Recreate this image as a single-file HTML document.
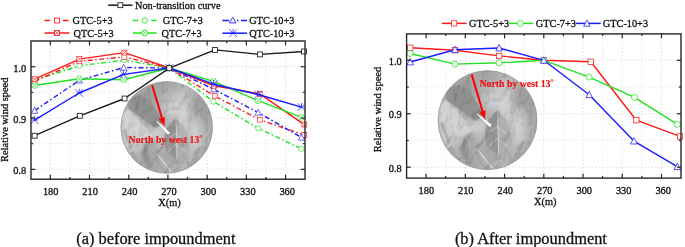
<!DOCTYPE html>
<html><head><meta charset="utf-8"><title>Relative wind speed</title>
<style>html,body{margin:0;padding:0;background:#fff;width:685px;height:247px;overflow:hidden}
svg text{font-family:"Liberation Serif",serif;stroke:#111;stroke-width:0.3px;paint-order:stroke}</style></head>
<body>
<svg width="685" height="247" viewBox="0 0 685 247" style="display:block;font-family:'Liberation Serif',serif;will-change:transform" fill="#111">
<line x1="50.3" y1="41" x2="50.3" y2="179.2" stroke="#d2d2d2" stroke-width="0.8" stroke-dasharray="1.3 2.2"/>
<line x1="69.91" y1="41" x2="69.91" y2="179.2" stroke="#e2e2e2" stroke-width="0.8" stroke-dasharray="1.3 2.2"/>
<line x1="89.51" y1="41" x2="89.51" y2="179.2" stroke="#d2d2d2" stroke-width="0.8" stroke-dasharray="1.3 2.2"/>
<line x1="109.11" y1="41" x2="109.11" y2="179.2" stroke="#e2e2e2" stroke-width="0.8" stroke-dasharray="1.3 2.2"/>
<line x1="128.72" y1="41" x2="128.72" y2="179.2" stroke="#d2d2d2" stroke-width="0.8" stroke-dasharray="1.3 2.2"/>
<line x1="148.32" y1="41" x2="148.32" y2="179.2" stroke="#e2e2e2" stroke-width="0.8" stroke-dasharray="1.3 2.2"/>
<line x1="167.93" y1="41" x2="167.93" y2="179.2" stroke="#d2d2d2" stroke-width="0.8" stroke-dasharray="1.3 2.2"/>
<line x1="187.53" y1="41" x2="187.53" y2="179.2" stroke="#e2e2e2" stroke-width="0.8" stroke-dasharray="1.3 2.2"/>
<line x1="207.14" y1="41" x2="207.14" y2="179.2" stroke="#d2d2d2" stroke-width="0.8" stroke-dasharray="1.3 2.2"/>
<line x1="226.75" y1="41" x2="226.75" y2="179.2" stroke="#e2e2e2" stroke-width="0.8" stroke-dasharray="1.3 2.2"/>
<line x1="246.35" y1="41" x2="246.35" y2="179.2" stroke="#d2d2d2" stroke-width="0.8" stroke-dasharray="1.3 2.2"/>
<line x1="265.95" y1="41" x2="265.95" y2="179.2" stroke="#e2e2e2" stroke-width="0.8" stroke-dasharray="1.3 2.2"/>
<line x1="285.56" y1="41" x2="285.56" y2="179.2" stroke="#d2d2d2" stroke-width="0.8" stroke-dasharray="1.3 2.2"/>
<line x1="31" y1="169.35" x2="305" y2="169.35" stroke="#d2d2d2" stroke-width="0.8" stroke-dasharray="1.3 2.2"/>
<line x1="31" y1="143.7" x2="305" y2="143.7" stroke="#e2e2e2" stroke-width="0.8" stroke-dasharray="1.3 2.2"/>
<line x1="31" y1="118.05" x2="305" y2="118.05" stroke="#d2d2d2" stroke-width="0.8" stroke-dasharray="1.3 2.2"/>
<line x1="31" y1="92.4" x2="305" y2="92.4" stroke="#e2e2e2" stroke-width="0.8" stroke-dasharray="1.3 2.2"/>
<line x1="31" y1="66.75" x2="305" y2="66.75" stroke="#d2d2d2" stroke-width="0.8" stroke-dasharray="1.3 2.2"/>
<line x1="426.1" y1="33.9" x2="426.1" y2="178.1" stroke="#d2d2d2" stroke-width="0.8" stroke-dasharray="1.3 2.2"/>
<line x1="445.72" y1="33.9" x2="445.72" y2="178.1" stroke="#e2e2e2" stroke-width="0.8" stroke-dasharray="1.3 2.2"/>
<line x1="465.33" y1="33.9" x2="465.33" y2="178.1" stroke="#d2d2d2" stroke-width="0.8" stroke-dasharray="1.3 2.2"/>
<line x1="484.95" y1="33.9" x2="484.95" y2="178.1" stroke="#e2e2e2" stroke-width="0.8" stroke-dasharray="1.3 2.2"/>
<line x1="504.57" y1="33.9" x2="504.57" y2="178.1" stroke="#d2d2d2" stroke-width="0.8" stroke-dasharray="1.3 2.2"/>
<line x1="524.19" y1="33.9" x2="524.19" y2="178.1" stroke="#e2e2e2" stroke-width="0.8" stroke-dasharray="1.3 2.2"/>
<line x1="543.8" y1="33.9" x2="543.8" y2="178.1" stroke="#d2d2d2" stroke-width="0.8" stroke-dasharray="1.3 2.2"/>
<line x1="563.42" y1="33.9" x2="563.42" y2="178.1" stroke="#e2e2e2" stroke-width="0.8" stroke-dasharray="1.3 2.2"/>
<line x1="583.04" y1="33.9" x2="583.04" y2="178.1" stroke="#d2d2d2" stroke-width="0.8" stroke-dasharray="1.3 2.2"/>
<line x1="602.65" y1="33.9" x2="602.65" y2="178.1" stroke="#e2e2e2" stroke-width="0.8" stroke-dasharray="1.3 2.2"/>
<line x1="622.27" y1="33.9" x2="622.27" y2="178.1" stroke="#d2d2d2" stroke-width="0.8" stroke-dasharray="1.3 2.2"/>
<line x1="641.89" y1="33.9" x2="641.89" y2="178.1" stroke="#e2e2e2" stroke-width="0.8" stroke-dasharray="1.3 2.2"/>
<line x1="661.5" y1="33.9" x2="661.5" y2="178.1" stroke="#d2d2d2" stroke-width="0.8" stroke-dasharray="1.3 2.2"/>
<line x1="406.6" y1="167.2" x2="681" y2="167.2" stroke="#d2d2d2" stroke-width="0.8" stroke-dasharray="1.3 2.2"/>
<line x1="406.6" y1="140.47" x2="681" y2="140.47" stroke="#e2e2e2" stroke-width="0.8" stroke-dasharray="1.3 2.2"/>
<line x1="406.6" y1="113.75" x2="681" y2="113.75" stroke="#d2d2d2" stroke-width="0.8" stroke-dasharray="1.3 2.2"/>
<line x1="406.6" y1="87.02" x2="681" y2="87.02" stroke="#e2e2e2" stroke-width="0.8" stroke-dasharray="1.3 2.2"/>
<line x1="406.6" y1="60.3" x2="681" y2="60.3" stroke="#d2d2d2" stroke-width="0.8" stroke-dasharray="1.3 2.2"/>
<clipPath id="tc"><circle cx="487.5" cy="120.2" r="49.7"/></clipPath>
<filter id="tb" x="-10%" y="-10%" width="120%" height="120%"><feGaussianBlur stdDeviation="3.2"/></filter>
<filter id="tx" x="0" y="0" width="100%" height="100%" color-interpolation-filters="sRGB"><feTurbulence type="fractalNoise" baseFrequency="0.09 0.06" numOctaves="3" seed="7" result="n"/><feColorMatrix in="n" type="matrix" values="0 0 0 0 0  0 0 0 0 0  0 0 0 0 0  0 0 0 1.2 -0.45" result="h"/><feDiffuseLighting in="h" surfaceScale="4" diffuseConstant="1" lighting-color="#fff" result="l"><feDistantLight azimuth="225" elevation="50"/></feDiffuseLighting><feColorMatrix in="l" type="matrix" values="0 0 0 0 0  0 0 0 0 0  0 0 0 0 0  -0.5 -0.5 0 0 0.75"/></filter>
<g transform="translate(166.7,127.4) scale(0.9256) translate(-487.5,-120.2)"><g>
<g clip-path="url(#tc)">
<g filter="url(#tb)">
<rect x="424.5" y="57.5" width="12.8" height="12.8" fill="#a8a8a8"/>
<rect x="437.0" y="57.5" width="12.8" height="12.8" fill="#a8a8a8"/>
<rect x="449.5" y="57.5" width="12.8" height="12.8" fill="#a8a8a8"/>
<rect x="462.0" y="57.5" width="12.8" height="12.8" fill="#a8a8a8"/>
<rect x="474.5" y="57.5" width="12.8" height="12.8" fill="#a4a4a4"/>
<rect x="487.0" y="57.5" width="12.8" height="12.8" fill="#a8a8a8"/>
<rect x="499.5" y="57.5" width="12.8" height="12.8" fill="#b8b8b8"/>
<rect x="512.0" y="57.5" width="12.8" height="12.8" fill="#b8b8b8"/>
<rect x="524.5" y="57.5" width="12.8" height="12.8" fill="#b8b8b8"/>
<rect x="537.0" y="57.5" width="12.8" height="12.8" fill="#b8b8b8"/>
<rect x="424.5" y="70.0" width="12.8" height="12.8" fill="#a8a8a8"/>
<rect x="437.0" y="70.0" width="12.8" height="12.8" fill="#a8a8a8"/>
<rect x="449.5" y="70.0" width="12.8" height="12.8" fill="#a8a8a8"/>
<rect x="462.0" y="70.0" width="12.8" height="12.8" fill="#a8a8a8"/>
<rect x="474.5" y="70.0" width="12.8" height="12.8" fill="#a4a4a4"/>
<rect x="487.0" y="70.0" width="12.8" height="12.8" fill="#a8a8a8"/>
<rect x="499.5" y="70.0" width="12.8" height="12.8" fill="#b8b8b8"/>
<rect x="512.0" y="70.0" width="12.8" height="12.8" fill="#b8b8b8"/>
<rect x="524.5" y="70.0" width="12.8" height="12.8" fill="#b8b8b8"/>
<rect x="537.0" y="70.0" width="12.8" height="12.8" fill="#b8b8b8"/>
<rect x="424.5" y="82.5" width="12.8" height="12.8" fill="#a8a8a8"/>
<rect x="437.0" y="82.5" width="12.8" height="12.8" fill="#a8a8a8"/>
<rect x="449.5" y="82.5" width="12.8" height="12.8" fill="#a0a0a0"/>
<rect x="462.0" y="82.5" width="12.8" height="12.8" fill="#989898"/>
<rect x="474.5" y="82.5" width="12.8" height="12.8" fill="#b0b0b0"/>
<rect x="487.0" y="82.5" width="12.8" height="12.8" fill="#c0c0c0"/>
<rect x="499.5" y="82.5" width="12.8" height="12.8" fill="#c8c8c8"/>
<rect x="512.0" y="82.5" width="12.8" height="12.8" fill="#a8a8a8"/>
<rect x="524.5" y="82.5" width="12.8" height="12.8" fill="#a0a0a0"/>
<rect x="537.0" y="82.5" width="12.8" height="12.8" fill="#a0a0a0"/>
<rect x="424.5" y="95.0" width="12.8" height="12.8" fill="#c8c8c8"/>
<rect x="437.0" y="95.0" width="12.8" height="12.8" fill="#c8c8c8"/>
<rect x="449.5" y="95.0" width="12.8" height="12.8" fill="#949494"/>
<rect x="462.0" y="95.0" width="12.8" height="12.8" fill="#989898"/>
<rect x="474.5" y="95.0" width="12.8" height="12.8" fill="#b8b8b8"/>
<rect x="487.0" y="95.0" width="12.8" height="12.8" fill="#d0d0d0"/>
<rect x="499.5" y="95.0" width="12.8" height="12.8" fill="#d0d0d0"/>
<rect x="512.0" y="95.0" width="12.8" height="12.8" fill="#a0a0a0"/>
<rect x="524.5" y="95.0" width="12.8" height="12.8" fill="#a0a0a0"/>
<rect x="537.0" y="95.0" width="12.8" height="12.8" fill="#a0a0a0"/>
<rect x="424.5" y="107.5" width="12.8" height="12.8" fill="#d0d0d0"/>
<rect x="437.0" y="107.5" width="12.8" height="12.8" fill="#d0d0d0"/>
<rect x="449.5" y="107.5" width="12.8" height="12.8" fill="#c8c8c8"/>
<rect x="462.0" y="107.5" width="12.8" height="12.8" fill="#989898"/>
<rect x="474.5" y="107.5" width="12.8" height="12.8" fill="#a8a8a8"/>
<rect x="487.0" y="107.5" width="12.8" height="12.8" fill="#b8b8b8"/>
<rect x="499.5" y="107.5" width="12.8" height="12.8" fill="#d0d0d0"/>
<rect x="512.0" y="107.5" width="12.8" height="12.8" fill="#c0c0c0"/>
<rect x="524.5" y="107.5" width="12.8" height="12.8" fill="#a8a8a8"/>
<rect x="537.0" y="107.5" width="12.8" height="12.8" fill="#a8a8a8"/>
<rect x="424.5" y="120.0" width="12.8" height="12.8" fill="#c0c0c0"/>
<rect x="437.0" y="120.0" width="12.8" height="12.8" fill="#c0c0c0"/>
<rect x="449.5" y="120.0" width="12.8" height="12.8" fill="#d4d4d4"/>
<rect x="462.0" y="120.0" width="12.8" height="12.8" fill="#d0d0d0"/>
<rect x="474.5" y="120.0" width="12.8" height="12.8" fill="#cccccc"/>
<rect x="487.0" y="120.0" width="12.8" height="12.8" fill="#9c9c9c"/>
<rect x="499.5" y="120.0" width="12.8" height="12.8" fill="#b8b8b8"/>
<rect x="512.0" y="120.0" width="12.8" height="12.8" fill="#d0d0d0"/>
<rect x="524.5" y="120.0" width="12.8" height="12.8" fill="#b0b0b0"/>
<rect x="537.0" y="120.0" width="12.8" height="12.8" fill="#b0b0b0"/>
<rect x="424.5" y="132.5" width="12.8" height="12.8" fill="#c8c8c8"/>
<rect x="437.0" y="132.5" width="12.8" height="12.8" fill="#c8c8c8"/>
<rect x="449.5" y="132.5" width="12.8" height="12.8" fill="#c8c8c8"/>
<rect x="462.0" y="132.5" width="12.8" height="12.8" fill="#a0a0a0"/>
<rect x="474.5" y="132.5" width="12.8" height="12.8" fill="#b8b8b8"/>
<rect x="487.0" y="132.5" width="12.8" height="12.8" fill="#9c9c9c"/>
<rect x="499.5" y="132.5" width="12.8" height="12.8" fill="#b4b4b4"/>
<rect x="512.0" y="132.5" width="12.8" height="12.8" fill="#c8c8c8"/>
<rect x="524.5" y="132.5" width="12.8" height="12.8" fill="#b0b0b0"/>
<rect x="537.0" y="132.5" width="12.8" height="12.8" fill="#b0b0b0"/>
<rect x="424.5" y="145.0" width="12.8" height="12.8" fill="#c0c0c0"/>
<rect x="437.0" y="145.0" width="12.8" height="12.8" fill="#c0c0c0"/>
<rect x="449.5" y="145.0" width="12.8" height="12.8" fill="#b0b0b0"/>
<rect x="462.0" y="145.0" width="12.8" height="12.8" fill="#989898"/>
<rect x="474.5" y="145.0" width="12.8" height="12.8" fill="#a8a8a8"/>
<rect x="487.0" y="145.0" width="12.8" height="12.8" fill="#a4a4a4"/>
<rect x="499.5" y="145.0" width="12.8" height="12.8" fill="#b0b0b0"/>
<rect x="512.0" y="145.0" width="12.8" height="12.8" fill="#b8b8b8"/>
<rect x="524.5" y="145.0" width="12.8" height="12.8" fill="#b4b4b4"/>
<rect x="537.0" y="145.0" width="12.8" height="12.8" fill="#b4b4b4"/>
<rect x="424.5" y="157.5" width="12.8" height="12.8" fill="#b8b8b8"/>
<rect x="437.0" y="157.5" width="12.8" height="12.8" fill="#b8b8b8"/>
<rect x="449.5" y="157.5" width="12.8" height="12.8" fill="#b0b0b0"/>
<rect x="462.0" y="157.5" width="12.8" height="12.8" fill="#a4a4a4"/>
<rect x="474.5" y="157.5" width="12.8" height="12.8" fill="#b0b0b0"/>
<rect x="487.0" y="157.5" width="12.8" height="12.8" fill="#b0b0b0"/>
<rect x="499.5" y="157.5" width="12.8" height="12.8" fill="#b4b4b4"/>
<rect x="512.0" y="157.5" width="12.8" height="12.8" fill="#b8b8b8"/>
<rect x="524.5" y="157.5" width="12.8" height="12.8" fill="#b8b8b8"/>
<rect x="537.0" y="157.5" width="12.8" height="12.8" fill="#b8b8b8"/>
<rect x="424.5" y="170.0" width="12.8" height="12.8" fill="#b8b8b8"/>
<rect x="437.0" y="170.0" width="12.8" height="12.8" fill="#b8b8b8"/>
<rect x="449.5" y="170.0" width="12.8" height="12.8" fill="#b0b0b0"/>
<rect x="462.0" y="170.0" width="12.8" height="12.8" fill="#a4a4a4"/>
<rect x="474.5" y="170.0" width="12.8" height="12.8" fill="#b0b0b0"/>
<rect x="487.0" y="170.0" width="12.8" height="12.8" fill="#b0b0b0"/>
<rect x="499.5" y="170.0" width="12.8" height="12.8" fill="#b4b4b4"/>
<rect x="512.0" y="170.0" width="12.8" height="12.8" fill="#b8b8b8"/>
<rect x="524.5" y="170.0" width="12.8" height="12.8" fill="#b8b8b8"/>
<rect x="537.0" y="170.0" width="12.8" height="12.8" fill="#b8b8b8"/>
</g>
<path d="M440 103 L447 101 L456 110 L465 121 L472 130 L463 137 L450 131 L441 119Z" fill="#d4d4d4" fill-opacity="0.7"/>
<path d="M445 89 L458 85 L470 92 L478 104 L482 116 L476 121 L466 114 L455 106 L446 100Z" fill="#8f8f8f" fill-opacity="0.85"/>
<path d="M496.8 110.3 L488.2 119.6 L484.8 131.6 L486.5 145.4 L498.5 155.7 L498 132Z" fill="#959595" fill-opacity="0.9"/>
<path d="M496.8 110.3 L505.4 117.9 L510.6 131.6 L512.3 145.4 L498.5 155.7 L498 132Z" fill="#b0b0b0" fill-opacity="0.85"/>
<path d="M465.8 136.8 L458.9 148.8 L463 158 L471 165 L469 150Z" fill="#969696" fill-opacity="0.85"/>
<path d="M465.8 136.8 L477.9 148.8 L476 158 L471 165 L469 150Z" fill="#acacac" fill-opacity="0.8"/>
<path d="M447 148 L452 146 L458 158 L455 162Z" fill="#a4a4a4" fill-opacity="0.8"/>
<path d="M516 90 L523 87 L530 97 L533 112 L527 114 L520 102Z" fill="#a0a0a0" fill-opacity="0.8"/>
<path d="M516 146 L526 140 L532 142 L529 152 L520 162 L514 160Z" fill="#a6a6a6" fill-opacity="0.6"/>
<path d="M442 124 L446 134 L449 142" fill="none" stroke="#9a9a9a" stroke-width="2.5" stroke-opacity="0.5" stroke-linecap="round" stroke-linejoin="round"/>
<path d="M466 78 L474 86 L480 96" fill="none" stroke="#a0a0a0" stroke-width="3.0" stroke-opacity="0.45" stroke-linecap="round" stroke-linejoin="round"/>
<path d="M506 150 L511 158 L515 164" fill="none" stroke="#a0a0a0" stroke-width="3.0" stroke-opacity="0.45" stroke-linecap="round" stroke-linejoin="round"/>
<path d="M478 158 L482 164 L486 169" fill="none" stroke="#9c9c9c" stroke-width="2.5" stroke-opacity="0.5" stroke-linecap="round" stroke-linejoin="round"/>
<path d="M498 118 L498.3 134 L498.5 154" fill="none" stroke="#cfcfcf" stroke-width="1.2" stroke-linecap="round"/>
<path d="M498 126 L490 132" fill="none" stroke="#c8c8c8" stroke-width="0.9" stroke-linecap="round"/>
<path d="M498 138 L489 146" fill="none" stroke="#c8c8c8" stroke-width="0.9" stroke-linecap="round"/>
<path d="M498 128 L507 134" fill="none" stroke="#d0d0d0" stroke-width="0.9" stroke-linecap="round"/>
<path d="M498 140 L508 146" fill="none" stroke="#d0d0d0" stroke-width="0.9" stroke-linecap="round"/>
<path d="M478 150 L486 160 L492 168" fill="none" stroke="#d2d2d2" stroke-width="1.6" stroke-linecap="round"/>
<rect x="437.8" y="70.5" width="99.4" height="99.4" fill="#000" filter="url(#tx)" opacity="0.22"/>
</g>
<circle cx="487.5" cy="120.2" r="49.400000000000006" fill="none" stroke="#9a9a9a" stroke-width="0.8"/>
</g></g>
<path d="M156.45 121.24L167.99 134.67L170.01 132.73L156.95 120.76Z" fill="#fff"/><line x1="152.2" y1="85.3" x2="161.93" y2="117.88" stroke="#f00" stroke-width="2"/><path d="M164.5 126.5L159.05 118.73L164.8 117.02Z" fill="#f00"/>
<text x="128.6" y="143.4" font-size="9.75" font-weight="bold" fill="#ee1111" style="stroke:#ee1111;stroke-width:0.15px">North by west 13<tspan font-size="8" dy="-2.3">°</tspan></text>
<g>
<g clip-path="url(#tc)">
<g filter="url(#tb)">
<rect x="424.5" y="57.5" width="12.8" height="12.8" fill="#a8a8a8"/>
<rect x="437.0" y="57.5" width="12.8" height="12.8" fill="#a8a8a8"/>
<rect x="449.5" y="57.5" width="12.8" height="12.8" fill="#a8a8a8"/>
<rect x="462.0" y="57.5" width="12.8" height="12.8" fill="#a8a8a8"/>
<rect x="474.5" y="57.5" width="12.8" height="12.8" fill="#a4a4a4"/>
<rect x="487.0" y="57.5" width="12.8" height="12.8" fill="#a8a8a8"/>
<rect x="499.5" y="57.5" width="12.8" height="12.8" fill="#b8b8b8"/>
<rect x="512.0" y="57.5" width="12.8" height="12.8" fill="#b8b8b8"/>
<rect x="524.5" y="57.5" width="12.8" height="12.8" fill="#b8b8b8"/>
<rect x="537.0" y="57.5" width="12.8" height="12.8" fill="#b8b8b8"/>
<rect x="424.5" y="70.0" width="12.8" height="12.8" fill="#a8a8a8"/>
<rect x="437.0" y="70.0" width="12.8" height="12.8" fill="#a8a8a8"/>
<rect x="449.5" y="70.0" width="12.8" height="12.8" fill="#a8a8a8"/>
<rect x="462.0" y="70.0" width="12.8" height="12.8" fill="#a8a8a8"/>
<rect x="474.5" y="70.0" width="12.8" height="12.8" fill="#a4a4a4"/>
<rect x="487.0" y="70.0" width="12.8" height="12.8" fill="#a8a8a8"/>
<rect x="499.5" y="70.0" width="12.8" height="12.8" fill="#b8b8b8"/>
<rect x="512.0" y="70.0" width="12.8" height="12.8" fill="#b8b8b8"/>
<rect x="524.5" y="70.0" width="12.8" height="12.8" fill="#b8b8b8"/>
<rect x="537.0" y="70.0" width="12.8" height="12.8" fill="#b8b8b8"/>
<rect x="424.5" y="82.5" width="12.8" height="12.8" fill="#a8a8a8"/>
<rect x="437.0" y="82.5" width="12.8" height="12.8" fill="#a8a8a8"/>
<rect x="449.5" y="82.5" width="12.8" height="12.8" fill="#a0a0a0"/>
<rect x="462.0" y="82.5" width="12.8" height="12.8" fill="#989898"/>
<rect x="474.5" y="82.5" width="12.8" height="12.8" fill="#b0b0b0"/>
<rect x="487.0" y="82.5" width="12.8" height="12.8" fill="#c0c0c0"/>
<rect x="499.5" y="82.5" width="12.8" height="12.8" fill="#c8c8c8"/>
<rect x="512.0" y="82.5" width="12.8" height="12.8" fill="#a8a8a8"/>
<rect x="524.5" y="82.5" width="12.8" height="12.8" fill="#a0a0a0"/>
<rect x="537.0" y="82.5" width="12.8" height="12.8" fill="#a0a0a0"/>
<rect x="424.5" y="95.0" width="12.8" height="12.8" fill="#c8c8c8"/>
<rect x="437.0" y="95.0" width="12.8" height="12.8" fill="#c8c8c8"/>
<rect x="449.5" y="95.0" width="12.8" height="12.8" fill="#949494"/>
<rect x="462.0" y="95.0" width="12.8" height="12.8" fill="#989898"/>
<rect x="474.5" y="95.0" width="12.8" height="12.8" fill="#b8b8b8"/>
<rect x="487.0" y="95.0" width="12.8" height="12.8" fill="#d0d0d0"/>
<rect x="499.5" y="95.0" width="12.8" height="12.8" fill="#d0d0d0"/>
<rect x="512.0" y="95.0" width="12.8" height="12.8" fill="#a0a0a0"/>
<rect x="524.5" y="95.0" width="12.8" height="12.8" fill="#a0a0a0"/>
<rect x="537.0" y="95.0" width="12.8" height="12.8" fill="#a0a0a0"/>
<rect x="424.5" y="107.5" width="12.8" height="12.8" fill="#d0d0d0"/>
<rect x="437.0" y="107.5" width="12.8" height="12.8" fill="#d0d0d0"/>
<rect x="449.5" y="107.5" width="12.8" height="12.8" fill="#c8c8c8"/>
<rect x="462.0" y="107.5" width="12.8" height="12.8" fill="#989898"/>
<rect x="474.5" y="107.5" width="12.8" height="12.8" fill="#a8a8a8"/>
<rect x="487.0" y="107.5" width="12.8" height="12.8" fill="#b8b8b8"/>
<rect x="499.5" y="107.5" width="12.8" height="12.8" fill="#d0d0d0"/>
<rect x="512.0" y="107.5" width="12.8" height="12.8" fill="#c0c0c0"/>
<rect x="524.5" y="107.5" width="12.8" height="12.8" fill="#a8a8a8"/>
<rect x="537.0" y="107.5" width="12.8" height="12.8" fill="#a8a8a8"/>
<rect x="424.5" y="120.0" width="12.8" height="12.8" fill="#c0c0c0"/>
<rect x="437.0" y="120.0" width="12.8" height="12.8" fill="#c0c0c0"/>
<rect x="449.5" y="120.0" width="12.8" height="12.8" fill="#d4d4d4"/>
<rect x="462.0" y="120.0" width="12.8" height="12.8" fill="#d0d0d0"/>
<rect x="474.5" y="120.0" width="12.8" height="12.8" fill="#cccccc"/>
<rect x="487.0" y="120.0" width="12.8" height="12.8" fill="#9c9c9c"/>
<rect x="499.5" y="120.0" width="12.8" height="12.8" fill="#b8b8b8"/>
<rect x="512.0" y="120.0" width="12.8" height="12.8" fill="#d0d0d0"/>
<rect x="524.5" y="120.0" width="12.8" height="12.8" fill="#b0b0b0"/>
<rect x="537.0" y="120.0" width="12.8" height="12.8" fill="#b0b0b0"/>
<rect x="424.5" y="132.5" width="12.8" height="12.8" fill="#c8c8c8"/>
<rect x="437.0" y="132.5" width="12.8" height="12.8" fill="#c8c8c8"/>
<rect x="449.5" y="132.5" width="12.8" height="12.8" fill="#c8c8c8"/>
<rect x="462.0" y="132.5" width="12.8" height="12.8" fill="#a0a0a0"/>
<rect x="474.5" y="132.5" width="12.8" height="12.8" fill="#b8b8b8"/>
<rect x="487.0" y="132.5" width="12.8" height="12.8" fill="#9c9c9c"/>
<rect x="499.5" y="132.5" width="12.8" height="12.8" fill="#b4b4b4"/>
<rect x="512.0" y="132.5" width="12.8" height="12.8" fill="#c8c8c8"/>
<rect x="524.5" y="132.5" width="12.8" height="12.8" fill="#b0b0b0"/>
<rect x="537.0" y="132.5" width="12.8" height="12.8" fill="#b0b0b0"/>
<rect x="424.5" y="145.0" width="12.8" height="12.8" fill="#c0c0c0"/>
<rect x="437.0" y="145.0" width="12.8" height="12.8" fill="#c0c0c0"/>
<rect x="449.5" y="145.0" width="12.8" height="12.8" fill="#b0b0b0"/>
<rect x="462.0" y="145.0" width="12.8" height="12.8" fill="#989898"/>
<rect x="474.5" y="145.0" width="12.8" height="12.8" fill="#a8a8a8"/>
<rect x="487.0" y="145.0" width="12.8" height="12.8" fill="#a4a4a4"/>
<rect x="499.5" y="145.0" width="12.8" height="12.8" fill="#b0b0b0"/>
<rect x="512.0" y="145.0" width="12.8" height="12.8" fill="#b8b8b8"/>
<rect x="524.5" y="145.0" width="12.8" height="12.8" fill="#b4b4b4"/>
<rect x="537.0" y="145.0" width="12.8" height="12.8" fill="#b4b4b4"/>
<rect x="424.5" y="157.5" width="12.8" height="12.8" fill="#b8b8b8"/>
<rect x="437.0" y="157.5" width="12.8" height="12.8" fill="#b8b8b8"/>
<rect x="449.5" y="157.5" width="12.8" height="12.8" fill="#b0b0b0"/>
<rect x="462.0" y="157.5" width="12.8" height="12.8" fill="#a4a4a4"/>
<rect x="474.5" y="157.5" width="12.8" height="12.8" fill="#b0b0b0"/>
<rect x="487.0" y="157.5" width="12.8" height="12.8" fill="#b0b0b0"/>
<rect x="499.5" y="157.5" width="12.8" height="12.8" fill="#b4b4b4"/>
<rect x="512.0" y="157.5" width="12.8" height="12.8" fill="#b8b8b8"/>
<rect x="524.5" y="157.5" width="12.8" height="12.8" fill="#b8b8b8"/>
<rect x="537.0" y="157.5" width="12.8" height="12.8" fill="#b8b8b8"/>
<rect x="424.5" y="170.0" width="12.8" height="12.8" fill="#b8b8b8"/>
<rect x="437.0" y="170.0" width="12.8" height="12.8" fill="#b8b8b8"/>
<rect x="449.5" y="170.0" width="12.8" height="12.8" fill="#b0b0b0"/>
<rect x="462.0" y="170.0" width="12.8" height="12.8" fill="#a4a4a4"/>
<rect x="474.5" y="170.0" width="12.8" height="12.8" fill="#b0b0b0"/>
<rect x="487.0" y="170.0" width="12.8" height="12.8" fill="#b0b0b0"/>
<rect x="499.5" y="170.0" width="12.8" height="12.8" fill="#b4b4b4"/>
<rect x="512.0" y="170.0" width="12.8" height="12.8" fill="#b8b8b8"/>
<rect x="524.5" y="170.0" width="12.8" height="12.8" fill="#b8b8b8"/>
<rect x="537.0" y="170.0" width="12.8" height="12.8" fill="#b8b8b8"/>
</g>
<path d="M440 103 L447 101 L456 110 L465 121 L472 130 L463 137 L450 131 L441 119Z" fill="#d4d4d4" fill-opacity="0.7"/>
<path d="M445 89 L458 85 L470 92 L478 104 L482 116 L476 121 L466 114 L455 106 L446 100Z" fill="#8f8f8f" fill-opacity="0.85"/>
<path d="M496.8 110.3 L488.2 119.6 L484.8 131.6 L486.5 145.4 L498.5 155.7 L498 132Z" fill="#959595" fill-opacity="0.9"/>
<path d="M496.8 110.3 L505.4 117.9 L510.6 131.6 L512.3 145.4 L498.5 155.7 L498 132Z" fill="#b0b0b0" fill-opacity="0.85"/>
<path d="M465.8 136.8 L458.9 148.8 L463 158 L471 165 L469 150Z" fill="#969696" fill-opacity="0.85"/>
<path d="M465.8 136.8 L477.9 148.8 L476 158 L471 165 L469 150Z" fill="#acacac" fill-opacity="0.8"/>
<path d="M447 148 L452 146 L458 158 L455 162Z" fill="#a4a4a4" fill-opacity="0.8"/>
<path d="M516 90 L523 87 L530 97 L533 112 L527 114 L520 102Z" fill="#a0a0a0" fill-opacity="0.8"/>
<path d="M516 146 L526 140 L532 142 L529 152 L520 162 L514 160Z" fill="#a6a6a6" fill-opacity="0.6"/>
<path d="M442 124 L446 134 L449 142" fill="none" stroke="#9a9a9a" stroke-width="2.5" stroke-opacity="0.5" stroke-linecap="round" stroke-linejoin="round"/>
<path d="M466 78 L474 86 L480 96" fill="none" stroke="#a0a0a0" stroke-width="3.0" stroke-opacity="0.45" stroke-linecap="round" stroke-linejoin="round"/>
<path d="M506 150 L511 158 L515 164" fill="none" stroke="#a0a0a0" stroke-width="3.0" stroke-opacity="0.45" stroke-linecap="round" stroke-linejoin="round"/>
<path d="M478 158 L482 164 L486 169" fill="none" stroke="#9c9c9c" stroke-width="2.5" stroke-opacity="0.5" stroke-linecap="round" stroke-linejoin="round"/>
<path d="M498 118 L498.3 134 L498.5 154" fill="none" stroke="#cfcfcf" stroke-width="1.2" stroke-linecap="round"/>
<path d="M498 126 L490 132" fill="none" stroke="#c8c8c8" stroke-width="0.9" stroke-linecap="round"/>
<path d="M498 138 L489 146" fill="none" stroke="#c8c8c8" stroke-width="0.9" stroke-linecap="round"/>
<path d="M498 128 L507 134" fill="none" stroke="#d0d0d0" stroke-width="0.9" stroke-linecap="round"/>
<path d="M498 140 L508 146" fill="none" stroke="#d0d0d0" stroke-width="0.9" stroke-linecap="round"/>
<path d="M478 150 L486 160 L492 168" fill="none" stroke="#d2d2d2" stroke-width="1.6" stroke-linecap="round"/>
<rect x="437.8" y="70.5" width="99.4" height="99.4" fill="#000" filter="url(#tx)" opacity="0.22"/>
</g>
<circle cx="487.5" cy="120.2" r="49.400000000000006" fill="none" stroke="#9a9a9a" stroke-width="0.8"/>
</g>
<path d="M476.77 113.96L489.77 126.95L491.63 124.85L477.23 113.44Z" fill="#fff"/><line x1="471.7" y1="74.4" x2="482.55" y2="111.17" stroke="#f00" stroke-width="2"/><path d="M485.1 119.8L479.67 112.02L485.43 110.32Z" fill="#f00"/>
<text x="479.5" y="86.9" font-size="9.8" font-weight="bold" fill="#ee1111" style="stroke:#ee1111;stroke-width:0.15px">North by west 13<tspan font-size="8" dy="-2.3">°</tspan></text>
<path d="M34.6 80 L79.4 65.7 L124.4 60.2 L169.3 68 L213.4 101.6 L258.3 128.3 L301.3 148.7" stroke="#22e022" stroke-width="1.4" fill="none" stroke-linejoin="round" stroke-dasharray="5 2.5 1.5 2.5"/><circle cx="34.6" cy="80" r="2.7" fill="#fff" stroke="#22e022" stroke-width="0.65"/><circle cx="79.4" cy="65.7" r="2.7" fill="#fff" stroke="#22e022" stroke-width="0.65"/><circle cx="124.4" cy="60.2" r="2.7" fill="#fff" stroke="#22e022" stroke-width="0.65"/><circle cx="169.3" cy="68" r="2.7" fill="#fff" stroke="#22e022" stroke-width="0.65"/><circle cx="213.4" cy="101.6" r="2.7" fill="#fff" stroke="#22e022" stroke-width="0.65"/><circle cx="258.3" cy="128.3" r="2.7" fill="#fff" stroke="#22e022" stroke-width="0.65"/><circle cx="301.3" cy="148.7" r="2.7" fill="#fff" stroke="#22e022" stroke-width="0.65"/>
<path d="M34.6 81.3 L79.4 61.3 L124.4 56.9 L169.3 68 L214.7 96.1 L259.8 119.7 L304.3 135" stroke="#ff1a1a" stroke-width="1.4" fill="none" stroke-linejoin="round" stroke-dasharray="5 2.5 1.5 2.5"/><rect x="32.15" y="78.85" width="4.9" height="4.9" fill="#fff" stroke="#ff1a1a" stroke-width="0.65"/><rect x="76.95" y="58.85" width="4.9" height="4.9" fill="#fff" stroke="#ff1a1a" stroke-width="0.65"/><rect x="121.95" y="54.45" width="4.9" height="4.9" fill="#fff" stroke="#ff1a1a" stroke-width="0.65"/><rect x="166.85" y="65.55" width="4.9" height="4.9" fill="#fff" stroke="#ff1a1a" stroke-width="0.65"/><rect x="212.25" y="93.65" width="4.9" height="4.9" fill="#fff" stroke="#ff1a1a" stroke-width="0.65"/><rect x="257.35" y="117.25" width="4.9" height="4.9" fill="#fff" stroke="#ff1a1a" stroke-width="0.65"/><rect x="301.85" y="132.55" width="4.9" height="4.9" fill="#fff" stroke="#ff1a1a" stroke-width="0.65"/>
<path d="M34.6 110.6 L79.4 80.3 L123.7 67.6 L169.3 68 L213.7 89.2 L258.1 112.5 L301.5 137.5" stroke="#1a1aff" stroke-width="1.4" fill="none" stroke-linejoin="round" stroke-dasharray="5 2.5 1.5 2.5"/><path d="M34.6 107.3L37.7 113.3L31.5 113.3Z" fill="#fff" stroke="#1a1aff" stroke-width="0.65" stroke-linejoin="miter"/><path d="M79.4 77L82.5 83L76.3 83Z" fill="#fff" stroke="#1a1aff" stroke-width="0.65" stroke-linejoin="miter"/><path d="M123.7 64.3L126.8 70.3L120.6 70.3Z" fill="#fff" stroke="#1a1aff" stroke-width="0.65" stroke-linejoin="miter"/><path d="M169.3 64.7L172.4 70.7L166.2 70.7Z" fill="#fff" stroke="#1a1aff" stroke-width="0.65" stroke-linejoin="miter"/><path d="M213.7 85.9L216.8 91.9L210.6 91.9Z" fill="#fff" stroke="#1a1aff" stroke-width="0.65" stroke-linejoin="miter"/><path d="M258.1 109.2L261.2 115.2L255 115.2Z" fill="#fff" stroke="#1a1aff" stroke-width="0.65" stroke-linejoin="miter"/><path d="M301.5 134.2L304.6 140.2L298.4 140.2Z" fill="#fff" stroke="#1a1aff" stroke-width="0.65" stroke-linejoin="miter"/>
<path d="M34.6 79.2 L79.4 59.1 L124.4 52.6 L169.3 68 L214 85.8 L259.8 93.9 L304.3 124.6" stroke="#ff1a1a" stroke-width="1.4" fill="none" stroke-linejoin="round"/><rect x="32.15" y="76.75" width="4.9" height="4.9" fill="#fff" stroke="#ff1a1a" stroke-width="0.65"/><path d="M32.15 76.75L37.05 81.65M37.05 76.75L32.15 81.65" stroke="#ff1a1a" stroke-width="0.6" fill="none"/><rect x="76.95" y="56.65" width="4.9" height="4.9" fill="#fff" stroke="#ff1a1a" stroke-width="0.65"/><path d="M76.95 56.65L81.85 61.55M81.85 56.65L76.95 61.55" stroke="#ff1a1a" stroke-width="0.6" fill="none"/><rect x="121.95" y="50.15" width="4.9" height="4.9" fill="#fff" stroke="#ff1a1a" stroke-width="0.65"/><path d="M121.95 50.15L126.85 55.05M126.85 50.15L121.95 55.05" stroke="#ff1a1a" stroke-width="0.6" fill="none"/><rect x="166.85" y="65.55" width="4.9" height="4.9" fill="#fff" stroke="#ff1a1a" stroke-width="0.65"/><path d="M166.85 65.55L171.75 70.45M171.75 65.55L166.85 70.45" stroke="#ff1a1a" stroke-width="0.6" fill="none"/><rect x="211.55" y="83.35" width="4.9" height="4.9" fill="#fff" stroke="#ff1a1a" stroke-width="0.65"/><path d="M211.55 83.35L216.45 88.25M216.45 83.35L211.55 88.25" stroke="#ff1a1a" stroke-width="0.6" fill="none"/><rect x="257.35" y="91.45" width="4.9" height="4.9" fill="#fff" stroke="#ff1a1a" stroke-width="0.65"/><path d="M257.35 91.45L262.25 96.35M262.25 91.45L257.35 96.35" stroke="#ff1a1a" stroke-width="0.6" fill="none"/><rect x="301.85" y="122.15" width="4.9" height="4.9" fill="#fff" stroke="#ff1a1a" stroke-width="0.65"/><path d="M301.85 122.15L306.75 127.05M306.75 122.15L301.85 127.05" stroke="#ff1a1a" stroke-width="0.6" fill="none"/>
<path d="M34.6 85.5 L79.2 78.8 L123.7 79.7 L169.3 68 L213.7 81.3 L258.1 100.7 L301.5 117.3" stroke="#22e022" stroke-width="1.4" fill="none" stroke-linejoin="round"/><circle cx="34.6" cy="85.5" r="2.9" fill="#fff" stroke="#22e022" stroke-width="0.65"/><path d="M32.55 83.45L36.65 87.55M36.65 83.45L32.55 87.55" stroke="#22e022" stroke-width="0.6" fill="none"/><circle cx="79.2" cy="78.8" r="2.9" fill="#fff" stroke="#22e022" stroke-width="0.65"/><path d="M77.15 76.75L81.25 80.85M81.25 76.75L77.15 80.85" stroke="#22e022" stroke-width="0.6" fill="none"/><circle cx="123.7" cy="79.7" r="2.9" fill="#fff" stroke="#22e022" stroke-width="0.65"/><path d="M121.65 77.65L125.75 81.75M125.75 77.65L121.65 81.75" stroke="#22e022" stroke-width="0.6" fill="none"/><circle cx="169.3" cy="68" r="2.9" fill="#fff" stroke="#22e022" stroke-width="0.65"/><path d="M167.25 65.95L171.35 70.05M171.35 65.95L167.25 70.05" stroke="#22e022" stroke-width="0.6" fill="none"/><circle cx="213.7" cy="81.3" r="2.9" fill="#fff" stroke="#22e022" stroke-width="0.65"/><path d="M211.65 79.25L215.75 83.35M215.75 79.25L211.65 83.35" stroke="#22e022" stroke-width="0.6" fill="none"/><circle cx="258.1" cy="100.7" r="2.9" fill="#fff" stroke="#22e022" stroke-width="0.65"/><path d="M256.05 98.65L260.15 102.75M260.15 98.65L256.05 102.75" stroke="#22e022" stroke-width="0.6" fill="none"/><circle cx="301.5" cy="117.3" r="2.9" fill="#fff" stroke="#22e022" stroke-width="0.65"/><path d="M299.45 115.25L303.55 119.35M303.55 115.25L299.45 119.35" stroke="#22e022" stroke-width="0.6" fill="none"/>
<path d="M34.6 120.1 L79.2 93 L123.7 74.4 L169.3 68 L213.7 84.2 L258.1 94.5 L301.5 107.1" stroke="#1a1aff" stroke-width="1.4" fill="none" stroke-linejoin="round"/><path d="M30.7 116.2L38.5 124M38.5 116.2L30.7 124M34.6 115.81L34.6 120.88M31.48 120.1L37.72 120.1" stroke="#1a1aff" stroke-width="0.7" fill="none"/><path d="M75.3 89.1L83.1 96.9M83.1 89.1L75.3 96.9M79.2 88.71L79.2 93.78M76.08 93L82.32 93" stroke="#1a1aff" stroke-width="0.7" fill="none"/><path d="M119.8 70.5L127.6 78.3M127.6 70.5L119.8 78.3M123.7 70.11L123.7 75.18M120.58 74.4L126.82 74.4" stroke="#1a1aff" stroke-width="0.7" fill="none"/><path d="M165.4 64.1L173.2 71.9M173.2 64.1L165.4 71.9M169.3 63.71L169.3 68.78M166.18 68L172.42 68" stroke="#1a1aff" stroke-width="0.7" fill="none"/><path d="M209.8 80.3L217.6 88.1M217.6 80.3L209.8 88.1M213.7 79.91L213.7 84.98M210.58 84.2L216.82 84.2" stroke="#1a1aff" stroke-width="0.7" fill="none"/><path d="M254.2 90.6L262 98.4M262 90.6L254.2 98.4M258.1 90.21L258.1 95.28M254.98 94.5L261.22 94.5" stroke="#1a1aff" stroke-width="0.7" fill="none"/><path d="M297.6 103.2L305.4 111M305.4 103.2L297.6 111M301.5 102.81L301.5 107.88M298.38 107.1L304.62 107.1" stroke="#1a1aff" stroke-width="0.7" fill="none"/>
<path d="M34.6 135.7 L79.8 115.8 L124.6 98.5 L169.3 68.2 L215 49.9 L259.9 54.4 L304 51.5" stroke="#1a1a1a" stroke-width="1.4" fill="none" stroke-linejoin="round"/><rect x="32.15" y="133.25" width="4.9" height="4.9" fill="#fff" stroke="#1a1a1a" stroke-width="0.85"/><rect x="77.35" y="113.35" width="4.9" height="4.9" fill="#fff" stroke="#1a1a1a" stroke-width="0.85"/><rect x="122.15" y="96.05" width="4.9" height="4.9" fill="#fff" stroke="#1a1a1a" stroke-width="0.85"/><rect x="166.85" y="65.75" width="4.9" height="4.9" fill="#fff" stroke="#1a1a1a" stroke-width="0.85"/><rect x="212.55" y="47.45" width="4.9" height="4.9" fill="#fff" stroke="#1a1a1a" stroke-width="0.85"/><rect x="257.45" y="51.95" width="4.9" height="4.9" fill="#fff" stroke="#1a1a1a" stroke-width="0.85"/><rect x="301.55" y="49.05" width="4.9" height="4.9" fill="#fff" stroke="#1a1a1a" stroke-width="0.85"/>
<path d="M410.2 47.8 L455 50.2 L499.1 55.9 L543.8 60.3 L590.8 61.8 L636.3 120.2 L680 136.4" stroke="#ff1a1a" stroke-width="1.4" fill="none" stroke-linejoin="round"/><rect x="407.5" y="45.1" width="5.4" height="5.4" fill="#fff" stroke="#ff1a1a" stroke-width="0.75"/><rect x="452.3" y="47.5" width="5.4" height="5.4" fill="#fff" stroke="#ff1a1a" stroke-width="0.75"/><rect x="496.4" y="53.2" width="5.4" height="5.4" fill="#fff" stroke="#ff1a1a" stroke-width="0.75"/><rect x="541.1" y="57.6" width="5.4" height="5.4" fill="#fff" stroke="#ff1a1a" stroke-width="0.75"/><rect x="588.1" y="59.1" width="5.4" height="5.4" fill="#fff" stroke="#ff1a1a" stroke-width="0.75"/><rect x="633.6" y="117.5" width="5.4" height="5.4" fill="#fff" stroke="#ff1a1a" stroke-width="0.75"/><rect x="677.3" y="133.7" width="5.4" height="5.4" fill="#fff" stroke="#ff1a1a" stroke-width="0.75"/>
<path d="M410 53.5 L455 64.1 L499.1 62.8 L543.8 60.3 L589.1 77.1 L634.5 97.4 L677.4 124.4" stroke="#22e022" stroke-width="1.4" fill="none" stroke-linejoin="round"/><circle cx="410" cy="53.5" r="3" fill="#fff" stroke="#22e022" stroke-width="0.75"/><circle cx="455" cy="64.1" r="3" fill="#fff" stroke="#22e022" stroke-width="0.75"/><circle cx="499.1" cy="62.8" r="3" fill="#fff" stroke="#22e022" stroke-width="0.75"/><circle cx="543.8" cy="60.3" r="3" fill="#fff" stroke="#22e022" stroke-width="0.75"/><circle cx="589.1" cy="77.1" r="3" fill="#fff" stroke="#22e022" stroke-width="0.75"/><circle cx="634.5" cy="97.4" r="3" fill="#fff" stroke="#22e022" stroke-width="0.75"/><circle cx="677.4" cy="124.4" r="3" fill="#fff" stroke="#22e022" stroke-width="0.75"/>
<path d="M410.2 62 L455 49.7 L499.1 48 L543.8 60.3 L589.2 94.8 L633.9 141.1 L677.3 166.7" stroke="#1a1aff" stroke-width="1.4" fill="none" stroke-linejoin="round"/><path d="M410.2 58.48L413.5 64.88L406.9 64.88Z" fill="#fff" stroke="#1a1aff" stroke-width="0.75" stroke-linejoin="miter"/><path d="M455 46.18L458.3 52.58L451.7 52.58Z" fill="#fff" stroke="#1a1aff" stroke-width="0.75" stroke-linejoin="miter"/><path d="M499.1 44.48L502.4 50.88L495.8 50.88Z" fill="#fff" stroke="#1a1aff" stroke-width="0.75" stroke-linejoin="miter"/><path d="M543.8 56.78L547.1 63.18L540.5 63.18Z" fill="#fff" stroke="#1a1aff" stroke-width="0.75" stroke-linejoin="miter"/><path d="M589.2 91.28L592.5 97.68L585.9 97.68Z" fill="#fff" stroke="#1a1aff" stroke-width="0.75" stroke-linejoin="miter"/><path d="M633.9 137.58L637.2 143.98L630.6 143.98Z" fill="#fff" stroke="#1a1aff" stroke-width="0.75" stroke-linejoin="miter"/><path d="M677.3 163.18L680.6 169.58L674 169.58Z" fill="#fff" stroke="#1a1aff" stroke-width="0.75" stroke-linejoin="miter"/>
<rect x="31" y="41" width="274" height="138.2" fill="none" stroke="#262626" stroke-width="1.4"/>
<line x1="50.3" y1="179.2" x2="50.3" y2="174.8" stroke="#262626" stroke-width="1.2"/>
<line x1="50.3" y1="41" x2="50.3" y2="45.4" stroke="#262626" stroke-width="1.2"/>
<text x="50.7" y="195.2" text-anchor="middle" font-size="10.4">180</text>
<line x1="69.91" y1="179.2" x2="69.91" y2="177" stroke="#262626" stroke-width="1.2"/>
<line x1="69.91" y1="41" x2="69.91" y2="43.2" stroke="#262626" stroke-width="1.2"/>
<line x1="89.51" y1="179.2" x2="89.51" y2="174.8" stroke="#262626" stroke-width="1.2"/>
<line x1="89.51" y1="41" x2="89.51" y2="45.4" stroke="#262626" stroke-width="1.2"/>
<text x="90.12" y="195.2" text-anchor="middle" font-size="10.4">210</text>
<line x1="109.11" y1="179.2" x2="109.11" y2="177" stroke="#262626" stroke-width="1.2"/>
<line x1="109.11" y1="41" x2="109.11" y2="43.2" stroke="#262626" stroke-width="1.2"/>
<line x1="128.72" y1="179.2" x2="128.72" y2="174.8" stroke="#262626" stroke-width="1.2"/>
<line x1="128.72" y1="41" x2="128.72" y2="45.4" stroke="#262626" stroke-width="1.2"/>
<text x="129.54" y="195.2" text-anchor="middle" font-size="10.4">240</text>
<line x1="148.32" y1="179.2" x2="148.32" y2="177" stroke="#262626" stroke-width="1.2"/>
<line x1="148.32" y1="41" x2="148.32" y2="43.2" stroke="#262626" stroke-width="1.2"/>
<line x1="167.93" y1="179.2" x2="167.93" y2="174.8" stroke="#262626" stroke-width="1.2"/>
<line x1="167.93" y1="41" x2="167.93" y2="45.4" stroke="#262626" stroke-width="1.2"/>
<text x="168.96" y="195.2" text-anchor="middle" font-size="10.4">270</text>
<line x1="187.53" y1="179.2" x2="187.53" y2="177" stroke="#262626" stroke-width="1.2"/>
<line x1="187.53" y1="41" x2="187.53" y2="43.2" stroke="#262626" stroke-width="1.2"/>
<line x1="207.14" y1="179.2" x2="207.14" y2="174.8" stroke="#262626" stroke-width="1.2"/>
<line x1="207.14" y1="41" x2="207.14" y2="45.4" stroke="#262626" stroke-width="1.2"/>
<text x="208.37" y="195.2" text-anchor="middle" font-size="10.4">300</text>
<line x1="226.75" y1="179.2" x2="226.75" y2="177" stroke="#262626" stroke-width="1.2"/>
<line x1="226.75" y1="41" x2="226.75" y2="43.2" stroke="#262626" stroke-width="1.2"/>
<line x1="246.35" y1="179.2" x2="246.35" y2="174.8" stroke="#262626" stroke-width="1.2"/>
<line x1="246.35" y1="41" x2="246.35" y2="45.4" stroke="#262626" stroke-width="1.2"/>
<text x="247.79" y="195.2" text-anchor="middle" font-size="10.4">330</text>
<line x1="265.95" y1="179.2" x2="265.95" y2="177" stroke="#262626" stroke-width="1.2"/>
<line x1="265.95" y1="41" x2="265.95" y2="43.2" stroke="#262626" stroke-width="1.2"/>
<line x1="285.56" y1="179.2" x2="285.56" y2="174.8" stroke="#262626" stroke-width="1.2"/>
<line x1="285.56" y1="41" x2="285.56" y2="45.4" stroke="#262626" stroke-width="1.2"/>
<text x="287.21" y="195.2" text-anchor="middle" font-size="10.4">360</text>
<line x1="31" y1="169.35" x2="35.2" y2="169.35" stroke="#262626" stroke-width="1.2"/>
<line x1="305" y1="169.35" x2="300.8" y2="169.35" stroke="#262626" stroke-width="1.2"/>
<text x="26.2" y="174.25" text-anchor="end" font-size="10.4">0.8</text>
<line x1="31" y1="143.7" x2="33.2" y2="143.7" stroke="#262626" stroke-width="1.2"/>
<line x1="305" y1="143.7" x2="302.8" y2="143.7" stroke="#262626" stroke-width="1.2"/>
<line x1="31" y1="118.05" x2="35.2" y2="118.05" stroke="#262626" stroke-width="1.2"/>
<line x1="305" y1="118.05" x2="300.8" y2="118.05" stroke="#262626" stroke-width="1.2"/>
<text x="26.2" y="122.95" text-anchor="end" font-size="10.4">0.9</text>
<line x1="31" y1="92.4" x2="33.2" y2="92.4" stroke="#262626" stroke-width="1.2"/>
<line x1="305" y1="92.4" x2="302.8" y2="92.4" stroke="#262626" stroke-width="1.2"/>
<line x1="31" y1="66.75" x2="35.2" y2="66.75" stroke="#262626" stroke-width="1.2"/>
<line x1="305" y1="66.75" x2="300.8" y2="66.75" stroke="#262626" stroke-width="1.2"/>
<text x="26.2" y="71.65" text-anchor="end" font-size="10.4">1.0</text>
<text x="169.43" y="206.3" text-anchor="middle" font-size="10.4">X(m)</text>
<text transform="translate(8.4,119.75) rotate(-90)" text-anchor="middle" font-size="10.4">Relative wind speed</text>
<rect x="406.6" y="33.9" width="274.4" height="144.2" fill="none" stroke="#262626" stroke-width="1.4"/>
<line x1="426.1" y1="178.1" x2="426.1" y2="173.7" stroke="#262626" stroke-width="1.2"/>
<line x1="426.1" y1="33.9" x2="426.1" y2="38.3" stroke="#262626" stroke-width="1.2"/>
<text x="426.3" y="194.2" text-anchor="middle" font-size="10.4">180</text>
<line x1="445.72" y1="178.1" x2="445.72" y2="175.9" stroke="#262626" stroke-width="1.2"/>
<line x1="445.72" y1="33.9" x2="445.72" y2="36.1" stroke="#262626" stroke-width="1.2"/>
<line x1="465.33" y1="178.1" x2="465.33" y2="173.7" stroke="#262626" stroke-width="1.2"/>
<line x1="465.33" y1="33.9" x2="465.33" y2="38.3" stroke="#262626" stroke-width="1.2"/>
<text x="465.78" y="194.2" text-anchor="middle" font-size="10.4">210</text>
<line x1="484.95" y1="178.1" x2="484.95" y2="175.9" stroke="#262626" stroke-width="1.2"/>
<line x1="484.95" y1="33.9" x2="484.95" y2="36.1" stroke="#262626" stroke-width="1.2"/>
<line x1="504.57" y1="178.1" x2="504.57" y2="173.7" stroke="#262626" stroke-width="1.2"/>
<line x1="504.57" y1="33.9" x2="504.57" y2="38.3" stroke="#262626" stroke-width="1.2"/>
<text x="505.27" y="194.2" text-anchor="middle" font-size="10.4">240</text>
<line x1="524.19" y1="178.1" x2="524.19" y2="175.9" stroke="#262626" stroke-width="1.2"/>
<line x1="524.19" y1="33.9" x2="524.19" y2="36.1" stroke="#262626" stroke-width="1.2"/>
<line x1="543.8" y1="178.1" x2="543.8" y2="173.7" stroke="#262626" stroke-width="1.2"/>
<line x1="543.8" y1="33.9" x2="543.8" y2="38.3" stroke="#262626" stroke-width="1.2"/>
<text x="544.75" y="194.2" text-anchor="middle" font-size="10.4">270</text>
<line x1="563.42" y1="178.1" x2="563.42" y2="175.9" stroke="#262626" stroke-width="1.2"/>
<line x1="563.42" y1="33.9" x2="563.42" y2="36.1" stroke="#262626" stroke-width="1.2"/>
<line x1="583.04" y1="178.1" x2="583.04" y2="173.7" stroke="#262626" stroke-width="1.2"/>
<line x1="583.04" y1="33.9" x2="583.04" y2="38.3" stroke="#262626" stroke-width="1.2"/>
<text x="584.24" y="194.2" text-anchor="middle" font-size="10.4">300</text>
<line x1="602.65" y1="178.1" x2="602.65" y2="175.9" stroke="#262626" stroke-width="1.2"/>
<line x1="602.65" y1="33.9" x2="602.65" y2="36.1" stroke="#262626" stroke-width="1.2"/>
<line x1="622.27" y1="178.1" x2="622.27" y2="173.7" stroke="#262626" stroke-width="1.2"/>
<line x1="622.27" y1="33.9" x2="622.27" y2="38.3" stroke="#262626" stroke-width="1.2"/>
<text x="623.72" y="194.2" text-anchor="middle" font-size="10.4">330</text>
<line x1="641.89" y1="178.1" x2="641.89" y2="175.9" stroke="#262626" stroke-width="1.2"/>
<line x1="641.89" y1="33.9" x2="641.89" y2="36.1" stroke="#262626" stroke-width="1.2"/>
<line x1="661.5" y1="178.1" x2="661.5" y2="173.7" stroke="#262626" stroke-width="1.2"/>
<line x1="661.5" y1="33.9" x2="661.5" y2="38.3" stroke="#262626" stroke-width="1.2"/>
<text x="663.2" y="194.2" text-anchor="middle" font-size="10.4">360</text>
<line x1="406.6" y1="167.2" x2="410.8" y2="167.2" stroke="#262626" stroke-width="1.2"/>
<line x1="681" y1="167.2" x2="676.8" y2="167.2" stroke="#262626" stroke-width="1.2"/>
<text x="401.8" y="171.9" text-anchor="end" font-size="10.4">0.8</text>
<line x1="406.6" y1="140.47" x2="408.8" y2="140.47" stroke="#262626" stroke-width="1.2"/>
<line x1="681" y1="140.47" x2="678.8" y2="140.47" stroke="#262626" stroke-width="1.2"/>
<line x1="406.6" y1="113.75" x2="410.8" y2="113.75" stroke="#262626" stroke-width="1.2"/>
<line x1="681" y1="113.75" x2="676.8" y2="113.75" stroke="#262626" stroke-width="1.2"/>
<text x="401.8" y="118.45" text-anchor="end" font-size="10.4">0.9</text>
<line x1="406.6" y1="87.02" x2="408.8" y2="87.02" stroke="#262626" stroke-width="1.2"/>
<line x1="681" y1="87.02" x2="678.8" y2="87.02" stroke="#262626" stroke-width="1.2"/>
<line x1="406.6" y1="60.3" x2="410.8" y2="60.3" stroke="#262626" stroke-width="1.2"/>
<line x1="681" y1="60.3" x2="676.8" y2="60.3" stroke="#262626" stroke-width="1.2"/>
<text x="401.8" y="65" text-anchor="end" font-size="10.4">1.0</text>
<text x="545.3" y="205" text-anchor="middle" font-size="10.4">X(m)</text>
<text transform="translate(381.3,109.45) rotate(-90)" text-anchor="middle" font-size="10.55">Relative wind speed</text>
<path d="M108.2 5.2 L132.5 5.2" stroke="#1a1a1a" stroke-width="1.5" fill="none" stroke-linejoin="round"/><rect x="117.9" y="2.75" width="4.9" height="4.9" fill="#fff" stroke="#1a1a1a" stroke-width="0.85"/><text x="135" y="8.8" font-size="10.3">Non-transition curve</text>
<path d="M44.5 20.5 L69.5 20.5" stroke="#ff1a1a" stroke-width="1.5" fill="none" stroke-linejoin="round" stroke-dasharray="5.5 13 5.5"/><rect x="54.55" y="18.05" width="4.9" height="4.9" fill="#fff" stroke="#ff1a1a" stroke-width="0.85"/><text x="72.5" y="24.1" font-size="10.3">GTC-5+3</text>
<path d="M132.8 20.5 L156.7 20.5" stroke="#22e022" stroke-width="1.5" fill="none" stroke-linejoin="round" stroke-dasharray="5.5 13 5.5"/><circle cx="144.75" cy="20.5" r="2.7" fill="#fff" stroke="#22e022" stroke-width="0.85"/><text x="162.8" y="24.1" font-size="10.3">GTC-7+3</text>
<path d="M222.4 20.4 L247 20.4" stroke="#1a1aff" stroke-width="1.5" fill="none" stroke-linejoin="round" stroke-dasharray="6.8 7.8 1.4 2.7 5.9 20"/><path d="M232.7 17.32L236 22.92L229.4 22.92Z" fill="#fff" stroke="#1a1aff" stroke-width="0.85" stroke-linejoin="miter"/><text x="249.2" y="24" font-size="10.3">GTC-10+3</text>
<path d="M44.5 33 L69.5 33" stroke="#ff1a1a" stroke-width="1.5" fill="none" stroke-linejoin="round"/><rect x="54.55" y="30.55" width="4.9" height="4.9" fill="#fff" stroke="#ff1a1a" stroke-width="0.85"/><path d="M54.55 30.55L59.45 35.45M59.45 30.55L54.55 35.45" stroke="#ff1a1a" stroke-width="0.6" fill="none"/><text x="73.5" y="36.6" font-size="10.3">QTC-5+3</text>
<path d="M132.8 33 L156.7 33" stroke="#22e022" stroke-width="1.5" fill="none" stroke-linejoin="round"/><circle cx="144.75" cy="33" r="2.9" fill="#fff" stroke="#22e022" stroke-width="0.85"/><path d="M142.7 30.95L146.8 35.05M146.8 30.95L142.7 35.05" stroke="#22e022" stroke-width="0.6" fill="none"/><text x="161.6" y="36.6" font-size="10.3">QTC-7+3</text>
<path d="M222.4 33.2 L247 33.2" stroke="#1a1aff" stroke-width="1.5" fill="none" stroke-linejoin="round"/><path d="M229.2 29.3L237 37.1M237 29.3L229.2 37.1M233.1 28.91L233.1 33.98M229.98 33.2L236.22 33.2" stroke="#1a1aff" stroke-width="0.7" fill="none"/><text x="249.2" y="36.8" font-size="10.3">QTC-10+3</text>
<path d="M441.8 23.4 L466.6 23.4" stroke="#ff1a1a" stroke-width="1.5" fill="none" stroke-linejoin="round"/><rect x="451.6" y="20.8" width="5.2" height="5.2" fill="#fff" stroke="#ff1a1a" stroke-width="0.75"/><text x="469" y="27" font-size="10.3">GTC-5+3</text>
<path d="M508.6 23.4 L533.4 23.4" stroke="#22e022" stroke-width="1.5" fill="none" stroke-linejoin="round"/><circle cx="520.3" cy="23.4" r="3" fill="#fff" stroke="#22e022" stroke-width="0.75"/><text x="535.8" y="27" font-size="10.3">GTC-7+3</text>
<path d="M575.5 23.4 L600.8 23.4" stroke="#1a1aff" stroke-width="1.5" fill="none" stroke-linejoin="round"/><path d="M586.9 19.99L590.1 26.19L583.7 26.19Z" fill="#fff" stroke="#1a1aff" stroke-width="0.75" stroke-linejoin="miter"/><text x="602.8" y="27" font-size="10.3">GTC-10+3</text>
<text x="76.2" y="243.5" font-size="16.4">(a) before impoundment</text>
<text x="454.9" y="243.5" font-size="16.4">(b) After impoundment</text>
</svg>
</body></html>
